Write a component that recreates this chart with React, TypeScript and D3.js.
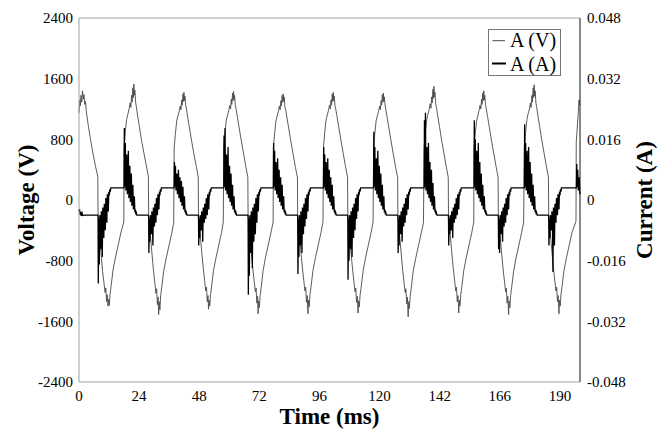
import * as d3 from "d3";

const W = 664;
const H = 430;
const MARGIN = { top: 18, right: 84, bottom: 48, left: 79 };

// time axis ticks (ms) and the labels printed on the original
const timeTicks = [0, 24, 48, 72, 96, 120, 144, 168, 192];
const timeLabels = ["0", "24", "48", "72", "96", "120", "142", "166", "190"];
const voltageTicks = [-2400, -1600, -800, 0, 800, 1600, 2400];
const currentTicks = [-48, -32, -16, 0, 16, 32, 48]; // mA
const currentLabels = ["-0.048", "-0.032", "-0.016", "0", "0.016", "0.032", "0.048"];

// voltage trace: [time ms, volts]
const voltage: [number, number][] = [
  [0, 1150], [0.3, 1320], [0.5, 1240], [0.8, 1380], [1.1, 1290], [1.4, 1440], [1.7, 1330], [2.0, 1390], [2.3, 1260], [2.6, 1300], [2.9, 1180], [3.2, 1100], [3.8, 960], [4.6, 800], [5.6, 610], [6.6, 440], [7.5, 310],
  [7.6, -170], [8.1, -400], [8.8, -700], [9.4, -940], [10.0, -1100], [10.4, -1220], [10.7, -1160], [11.0, -1340], [11.3, -1250], [11.6, -1400], [11.8, -1310], [12.1, -1390], [12.4, -1240], [12.8, -1140], [13.6, -920], [14.6, -750], [15.8, -570], [16.8, -420], [17.9, -290],
  [18.0, 700], [18.5, 900], [19.0, 1060], [19.5, 1130], [20.0, 1200], [20.4, 1280], [20.7, 1220], [21.0, 1380], [21.2, 1290], [21.5, 1480], [21.7, 1350], [21.9, 1530], [22.1, 1380], [22.3, 1450], [22.6, 1290], [22.9, 1230], [23.4, 1110], [24.1, 970], [24.9, 800], [25.9, 620], [26.9, 450], [27.7, 310],
  [27.8, -190], [28.3, -390], [29.0, -660], [29.7, -920], [30.3, -1100], [30.7, -1230], [31.0, -1170], [31.3, -1380], [31.6, -1280], [31.8, -1510], [32.0, -1340], [32.3, -1450], [32.6, -1260], [33.0, -1160], [33.8, -940], [34.8, -770], [36.0, -590], [37.0, -440], [37.8, -300],
  [38.0, 690], [38.5, 880], [39.0, 1040], [39.5, 1110], [40.0, 1170], [40.4, 1240], [40.7, 1190], [41.0, 1320], [41.2, 1250], [41.5, 1400], [41.7, 1300], [41.9, 1420], [42.1, 1310], [42.3, 1370], [42.6, 1240], [42.9, 1200], [43.4, 1090], [44.1, 950], [44.9, 790], [45.9, 600], [46.9, 430], [47.6, 300],
  [47.7, -180], [48.2, -380], [48.9, -650], [49.6, -900], [50.2, -1080], [50.6, -1200], [50.9, -1150], [51.2, -1340], [51.5, -1260], [51.7, -1440], [51.9, -1320], [52.2, -1400], [52.5, -1250], [52.9, -1150], [53.7, -930], [54.7, -760], [55.9, -580], [56.9, -430], [57.6, -290],
  [57.8, 700], [58.3, 890], [58.8, 1050], [59.3, 1120], [59.8, 1180], [60.2, 1250], [60.5, 1200], [60.8, 1330], [61.0, 1260], [61.3, 1410], [61.5, 1310], [61.7, 1430], [61.9, 1320], [62.1, 1380], [62.4, 1250], [62.7, 1200], [63.2, 1100], [63.9, 960], [64.7, 800], [65.7, 610], [66.6, 440], [67.4, 300],
  [67.5, -190], [68.0, -390], [68.7, -660], [69.4, -910], [70.0, -1090], [70.4, -1210], [70.7, -1160], [71.0, -1360], [71.3, -1270], [71.5, -1500], [71.7, -1330], [72.0, -1420], [72.3, -1260], [72.7, -1160], [73.5, -930], [74.5, -750], [75.7, -570], [76.7, -420], [77.5, -290],
  [77.6, 690], [78.1, 880], [78.6, 1040], [79.1, 1110], [79.6, 1170], [80.0, 1240], [80.3, 1190], [80.6, 1310], [80.8, 1240], [81.1, 1380], [81.3, 1290], [81.5, 1400], [81.7, 1300], [81.9, 1360], [82.2, 1230], [82.5, 1190], [83.0, 1090], [83.7, 950], [84.5, 790], [85.5, 600], [86.4, 430], [87.2, 300],
  [87.3, -180], [87.8, -380], [88.5, -650], [89.2, -900], [89.8, -1080], [90.2, -1200], [90.5, -1150], [90.8, -1350], [91.1, -1260], [91.4, -1500], [91.6, -1320], [91.9, -1410], [92.2, -1250], [92.6, -1150], [93.4, -930], [94.4, -760], [95.6, -580], [96.6, -430], [97.4, -290],
  [97.6, 700], [98.1, 890], [98.6, 1050], [99.1, 1120], [99.6, 1180], [100.0, 1250], [100.3, 1200], [100.6, 1320], [100.8, 1250], [101.1, 1400], [101.3, 1300], [101.5, 1420], [101.7, 1310], [101.9, 1370], [102.2, 1240], [102.5, 1200], [103.0, 1100], [103.7, 960], [104.5, 800], [105.5, 610], [106.4, 440], [107.2, 300],
  [107.3, -180], [107.8, -390], [108.5, -660], [109.2, -910], [109.8, -1090], [110.2, -1210], [110.5, -1160], [110.8, -1350], [111.1, -1270], [111.4, -1490], [111.6, -1330], [111.9, -1410], [112.2, -1260], [112.6, -1160], [113.4, -940], [114.4, -760], [115.6, -580], [116.6, -430], [117.4, -290],
  [117.6, 690], [118.1, 880], [118.6, 1040], [119.1, 1110], [119.6, 1170], [120.0, 1240], [120.3, 1190], [120.6, 1310], [120.8, 1250], [121.1, 1390], [121.3, 1290], [121.5, 1410], [121.7, 1300], [121.9, 1360], [122.2, 1240], [122.5, 1190], [123.0, 1090], [123.7, 950], [124.5, 790], [125.5, 600], [126.4, 430], [127.2, 300],
  [127.3, -190], [127.8, -390], [128.5, -660], [129.2, -920], [129.8, -1100], [130.2, -1220], [130.5, -1170], [130.8, -1370], [131.1, -1280], [131.4, -1540], [131.6, -1340], [131.9, -1430], [132.2, -1270], [132.6, -1170], [133.4, -940], [134.4, -770], [135.6, -590], [136.6, -440], [137.5, -300],
  [137.8, 700], [138.3, 900], [138.8, 1060], [139.3, 1130], [139.8, 1190], [140.2, 1270], [140.5, 1210], [140.8, 1360], [141.0, 1280], [141.3, 1460], [141.5, 1340], [141.7, 1500], [141.9, 1360], [142.1, 1420], [142.4, 1270], [142.7, 1220], [143.2, 1110], [143.9, 970], [144.7, 800], [145.7, 610], [146.6, 440], [147.4, 300],
  [147.5, -180], [148.0, -380], [148.7, -650], [149.4, -900], [150.0, -1080], [150.4, -1200], [150.7, -1150], [151.0, -1340], [151.3, -1260], [151.6, -1490], [151.8, -1320], [152.1, -1400], [152.4, -1250], [152.8, -1150], [153.6, -930], [154.6, -760], [155.8, -580], [156.8, -430], [157.6, -290],
  [157.7, 690], [158.2, 880], [158.7, 1040], [159.2, 1110], [159.7, 1180], [160.1, 1250], [160.4, 1200], [160.7, 1330], [160.9, 1260], [161.2, 1410], [161.4, 1310], [161.6, 1440], [161.8, 1320], [162.0, 1380], [162.3, 1250], [162.6, 1200], [163.1, 1100], [163.8, 960], [164.6, 800], [165.6, 610], [166.5, 440], [167.3, 300],
  [167.4, -190], [167.9, -390], [168.6, -660], [169.3, -910], [169.9, -1090], [170.3, -1210], [170.6, -1160], [170.9, -1360], [171.2, -1270], [171.5, -1510], [171.7, -1330], [172.0, -1420], [172.3, -1260], [172.7, -1160], [173.5, -940], [174.5, -760], [175.7, -580], [176.7, -430], [177.5, -290],
  [177.8, 700], [178.3, 900], [178.8, 1060], [179.3, 1140], [179.8, 1200], [180.2, 1280], [180.5, 1220], [180.8, 1380], [181.0, 1290], [181.3, 1480], [181.5, 1350], [181.7, 1520], [181.9, 1370], [182.1, 1440], [182.4, 1280], [182.7, 1230], [183.2, 1110], [183.9, 970], [184.7, 800], [185.7, 610], [186.6, 440], [187.4, 300],
  [187.5, -180], [188.0, -380], [188.7, -650], [189.4, -900], [190.0, -1080], [190.4, -1200], [190.7, -1150], [191.0, -1340], [191.3, -1260], [191.6, -1500], [191.8, -1320], [192.1, -1400], [192.4, -1250], [192.8, -1150], [193.6, -930], [194.6, -760], [195.8, -580], [196.8, -430], [198.4, -280],
  [198.5, 760], [198.9, 950], [199.3, 1150], [199.6, 1320], [200, 1250],
];

// current trace: [time ms, mA]
const currentMilliAmp: [number, number][] = [
  [0, -3], [0.2, -2.4], [0.4, -3.9], [0.6, -3.1], [0.9, -4.2], [1.2, -3.4], [1.5, -4.1], [2.5, -4], [7.5, -4],
  [7.6, -4.5], [7.7, -22], [7.9, -5], [8.1, -17], [8.3, -4], [8.5, -6], [8.7, -13], [8.9, -3], [9.1, -5], [9.3, -15], [9.5, -2], [9.7, -3.5], [9.9, -10], [10.1, -1], [10.3, -2.5], [10.5, -8], [10.7, 0.5], [10.9, -1], [11.1, -6], [11.3, 1.5], [11.5, 0.3], [11.7, -3], [11.9, 2.2], [12.1, 1.2], [12.3, 2.8], [12.5, 2.2], [12.7, 3.2], [17.9, 3.2],
  [18.0, 3.3], [18.1, 19], [18.3, 3.5], [18.5, 15], [18.7, 2.5], [18.9, 4], [19.1, 12], [19.3, 1.5], [19.5, 3], [19.7, 13], [19.9, 0.5], [20.1, 2], [20.3, 9], [20.5, -0.5], [20.7, 1], [20.9, 7], [21.1, -1.5], [21.3, 0], [21.5, 4], [21.7, -2.5], [21.9, -1.5], [22.1, 1], [22.3, -3.2], [22.5, -2.5], [22.7, -3.8], [22.9, -3.4], [23.1, -4], [27.7, -4],
  [27.8, -4.5], [27.9, -14], [28.1, -5], [28.3, -11], [28.5, -4], [28.7, -6], [28.9, -9], [29.1, -3], [29.3, -5], [29.5, -12], [29.7, -2], [29.9, -3.5], [30.1, -7], [30.3, -1], [30.5, -2.5], [30.7, -6], [30.9, 0.5], [31.1, -1], [31.3, -4], [31.5, 1.5], [31.7, 0.3], [31.9, -2.5], [32.1, 2.2], [32.3, 1.2], [32.5, 2.8], [32.7, 2.2], [32.9, 3.2], [37.9, 3.2],
  [38.0, 3.3], [38.1, 10], [38.3, 3.5], [38.5, 9], [38.7, 2.5], [38.9, 4], [39.1, 7], [39.3, 1.5], [39.5, 3], [39.7, 8], [39.9, 0.5], [40.1, 2], [40.3, 6], [40.5, -0.5], [40.7, 1], [40.9, 5], [41.1, -1.5], [41.3, 0], [41.5, 3.5], [41.7, -2.5], [41.9, -1.5], [42.1, 1], [42.3, -3.2], [42.5, -2.5], [42.7, -3.8], [42.9, -3.4], [43.1, -4], [47.6, -4],
  [47.7, -4.5], [47.8, -12], [48.0, -5], [48.2, -10], [48.4, -4], [48.6, -6], [48.8, -8], [49.0, -3], [49.2, -5], [49.4, -11], [49.6, -2], [49.8, -3.5], [50.0, -6], [50.2, -1], [50.4, -2.5], [50.6, -5], [50.8, 0.5], [51.0, -1], [51.2, -4], [51.4, 1.5], [51.6, 0.3], [51.8, -2.5], [52.0, 2.2], [52.2, 1.2], [52.4, 2.8], [52.6, 2.2], [52.8, 3.2], [57.7, 3.2],
  [57.8, 3.3], [57.9, 17], [58.1, 3.5], [58.3, 19], [58.5, 2.5], [58.7, 4], [58.9, 12], [59.1, 1.5], [59.3, 3], [59.5, 14], [59.7, 0.5], [59.9, 2], [60.1, 9], [60.3, -0.5], [60.5, 1], [60.7, 7], [60.9, -1.5], [61.1, 0], [61.3, 4], [61.5, -2.5], [61.7, -1.5], [61.9, 1], [62.1, -3.2], [62.3, -2.5], [62.5, -3.8], [62.7, -3.4], [62.9, -4], [67.4, -4],
  [67.5, -4.5], [67.6, -25], [67.8, -5], [68.0, -20], [68.2, -4], [68.4, -6], [68.6, -14], [68.8, -3], [69.0, -5], [69.2, -18], [69.4, -2], [69.6, -3.5], [69.8, -11], [70.0, -1], [70.2, -2.5], [70.4, -9], [70.6, 0.5], [70.8, -1], [71.0, -6], [71.2, 1.5], [71.4, 0.3], [71.6, -3], [71.8, 2.2], [72.0, 1.2], [72.2, 2.8], [72.4, 2.2], [72.6, 3.2], [77.5, 3.2],
  [77.6, 3.3], [77.7, 15], [77.9, 3.5], [78.1, 13], [78.3, 2.5], [78.5, 4], [78.7, 10], [78.9, 1.5], [79.1, 3], [79.3, 11], [79.5, 0.5], [79.7, 2], [79.9, 8], [80.1, -0.5], [80.3, 1], [80.5, 6], [80.7, -1.5], [80.9, 0], [81.1, 4], [81.3, -2.5], [81.5, -1.5], [81.7, 1], [81.9, -3.2], [82.1, -2.5], [82.3, -3.8], [82.5, -3.4], [82.7, -4], [87.2, -4],
  [87.3, -4.5], [87.4, -19.5], [87.6, -5], [87.8, -15], [88.0, -4], [88.2, -6], [88.4, -12], [88.6, -3], [88.8, -5], [89.0, -14], [89.2, -2], [89.4, -3.5], [89.6, -9], [89.8, -1], [90.0, -2.5], [90.2, -7], [90.4, 0.5], [90.6, -1], [90.8, -5], [91.0, 1.5], [91.2, 0.3], [91.4, -3], [91.6, 2.2], [91.8, 1.2], [92.0, 2.8], [92.2, 2.2], [92.4, 3.2], [97.5, 3.2],
  [97.6, 3.3], [97.7, 14], [97.9, 3.5], [98.1, 12], [98.3, 2.5], [98.5, 4], [98.7, 10], [98.9, 1.5], [99.1, 3], [99.3, 11], [99.5, 0.5], [99.7, 2], [99.9, 8], [100.1, -0.5], [100.3, 1], [100.5, 6], [100.7, -1.5], [100.9, 0], [101.1, 4], [101.3, -2.5], [101.5, -1.5], [101.7, 1], [101.9, -3.2], [102.1, -2.5], [102.3, -3.8], [102.5, -3.4], [102.7, -4], [107.2, -4],
  [107.3, -4.5], [107.4, -21], [107.6, -5], [107.8, -16], [108.0, -4], [108.2, -6], [108.4, -13], [108.6, -3], [108.8, -5], [109.0, -15], [109.2, -2], [109.4, -3.5], [109.6, -10], [109.8, -1], [110.0, -2.5], [110.2, -8], [110.4, 0.5], [110.6, -1], [110.8, -5], [111.0, 1.5], [111.2, 0.3], [111.4, -3], [111.6, 2.2], [111.8, 1.2], [112.0, 2.8], [112.2, 2.2], [112.4, 3.2], [117.5, 3.2],
  [117.6, 3.3], [117.7, 18], [117.9, 3.5], [118.1, 14], [118.3, 2.5], [118.5, 4], [118.7, 11], [118.9, 1.5], [119.1, 3], [119.3, 13], [119.5, 0.5], [119.7, 2], [119.9, 9], [120.1, -0.5], [120.3, 1], [120.5, 7], [120.7, -1.5], [120.9, 0], [121.1, 4], [121.3, -2.5], [121.5, -1.5], [121.7, 1], [121.9, -3.2], [122.1, -2.5], [122.3, -3.8], [122.5, -3.4], [122.7, -4], [127.2, -4],
  [127.3, -4.5], [127.4, -14], [127.6, -5], [127.8, -12], [128.0, -4], [128.2, -6], [128.4, -9], [128.6, -3], [128.8, -5], [129.0, -11], [129.2, -2], [129.4, -3.5], [129.6, -7], [129.8, -1], [130.0, -2.5], [130.2, -6], [130.4, 0.5], [130.6, -1], [130.8, -4], [131.0, 1.5], [131.2, 0.3], [131.4, -2.5], [131.6, 2.2], [131.8, 1.2], [132.0, 2.8], [132.2, 2.2], [132.4, 3.2], [137.7, 3.2],
  [137.8, 3.3], [137.9, 21], [138.1, 3.5], [138.3, 23], [138.5, 2.5], [138.7, 4], [138.9, 14], [139.1, 1.5], [139.3, 3], [139.5, 15], [139.7, 0.5], [139.9, 2], [140.1, 10], [140.3, -0.5], [140.5, 1], [140.7, 8], [140.9, -1.5], [141.1, 0], [141.3, 4.5], [141.5, -2.5], [141.7, -1.5], [141.9, 1], [142.1, -3.2], [142.3, -2.5], [142.5, -3.8], [142.7, -3.4], [142.9, -4], [147.4, -4],
  [147.5, -4.5], [147.6, -12], [147.8, -5], [148.0, -9], [148.2, -4], [148.4, -6], [148.6, -8], [148.8, -3], [149.0, -5], [149.2, -10], [149.4, -2], [149.6, -3.5], [149.8, -6], [150.0, -1], [150.2, -2.5], [150.4, -5], [150.6, 0.5], [150.8, -1], [151.0, -4], [151.2, 1.5], [151.4, 0.3], [151.6, -2.5], [151.8, 2.2], [152.0, 1.2], [152.2, 2.8], [152.4, 2.2], [152.6, 3.2], [157.6, 3.2],
  [157.7, 3.3], [157.8, 21], [158.0, 3.5], [158.2, 16], [158.4, 2.5], [158.6, 4], [158.8, 13], [159.0, 1.5], [159.2, 3], [159.4, 15], [159.6, 0.5], [159.8, 2], [160.0, 10], [160.2, -0.5], [160.4, 1], [160.6, 7], [160.8, -1.5], [161.0, 0], [161.2, 4], [161.4, -2.5], [161.6, -1.5], [161.8, 1], [162.0, -3.2], [162.2, -2.5], [162.4, -3.8], [162.6, -3.4], [162.8, -4], [167.3, -4],
  [167.4, -4.5], [167.5, -13], [167.7, -5], [167.9, -14], [168.1, -4], [168.3, -6], [168.5, -9], [168.7, -3], [168.9, -5], [169.1, -11], [169.3, -2], [169.5, -3.5], [169.7, -7], [169.9, -1], [170.1, -2.5], [170.3, -6], [170.5, 0.5], [170.7, -1], [170.9, -4], [171.1, 1.5], [171.3, 0.3], [171.5, -2.5], [171.7, 2.2], [171.9, 1.2], [172.1, 2.8], [172.3, 2.2], [172.5, 3.2], [177.7, 3.2],
  [177.8, 3.3], [177.9, 20], [178.1, 3.5], [178.3, 15], [178.5, 2.5], [178.7, 4], [178.9, 13], [179.1, 1.5], [179.3, 3], [179.5, 14], [179.7, 0.5], [179.9, 2], [180.1, 10], [180.3, -0.5], [180.5, 1], [180.7, 7], [180.9, -1.5], [181.1, 0], [181.3, 4], [181.5, -2.5], [181.7, -1.5], [181.9, 1], [182.1, -3.2], [182.3, -2.5], [182.5, -3.8], [182.7, -3.4], [182.9, -4], [187.4, -4],
  [187.5, -4.5], [187.6, -12], [187.8, -5], [188.0, -10], [188.2, -4], [188.4, -6], [188.6, -8], [188.8, -3], [189.0, -5], [189.2, -19], [189.4, -2], [189.6, -3.5], [189.8, -12], [190.0, -1], [190.2, -2.5], [190.4, -6], [190.6, 0.5], [190.8, -1], [191.0, -4], [191.2, 1.5], [191.4, 0.3], [191.6, -2.5], [191.8, 2.2], [192.0, 1.2], [192.2, 2.8], [192.4, 2.2], [192.6, 3.2], [198.5, 3.2],
  [198.6, 3.3], [198.7, 9.5], [198.9, 3.5], [199.1, 8], [199.3, 2.5], [199.5, 4], [199.7, 6], [199.9, 1.5], [200, 2],
];

const FONT = "'Liberation Serif', 'Times New Roman', serif";

export default function App() {
  const boundsW = W - MARGIN.left - MARGIN.right;
  const boundsH = H - MARGIN.top - MARGIN.bottom;
  const x0 = MARGIN.left;
  const x1 = MARGIN.left + boundsW;
  const y0 = MARGIN.top;
  const y1 = MARGIN.top + boundsH;

  const xScale = d3.scaleLinear().domain([0, 200]).range([x0, x1]);
  const yV = d3.scaleLinear().domain([-2400, 2400]).range([y1, y0]);
  const yA = d3.scaleLinear().domain([-48, 48]).range([y1, y0]);

  const vLine = d3
    .line<[number, number]>()
    .x((d) => xScale(d[0]))
    .y((d) => yV(d[1]));
  const aLine = d3
    .line<[number, number]>()
    .x((d) => xScale(d[0]))
    .y((d) => yA(d[1]));

  return (
    <svg
      width={W}
      height={H}
      style={{ position: "absolute", left: 0, top: 0, background: "#fff" }}
      fontFamily={FONT}
    >
      <rect x={0} y={0} width={W} height={H} fill="#fff" />

      {/* traces */}
      <path d={vLine(voltage) || ""} fill="none" stroke="#4a4a4a" strokeWidth={0.9} />
      <path d={aLine(currentMilliAmp) || ""} fill="none" stroke="#000" strokeWidth={1.3} />

      {/* frame */}
      <line x1={x0} x2={x1} y1={y0} y2={y0} stroke="#a0a0a0" strokeWidth={1} />
      <line x1={x0} x2={x1} y1={y1} y2={y1} stroke="#a0a0a0" strokeWidth={1} />
      <line x1={x0} x2={x0} y1={y0} y2={y1} stroke="#a0a0a0" strokeWidth={1} />
      <line x1={x1} x2={x1} y1={y0} y2={y1} stroke="#111" strokeWidth={1} />

      {/* left ticks */}
      {voltageTicks.map((v) => (
        <text key={"v" + v} x={x0 - 6} y={yV(v)} dy="0.35em" textAnchor="end" fontSize={15}>
          {v}
        </text>
      ))}
      {/* right ticks */}
      {currentTicks.map((v, i) => (
        <text key={"a" + v} x={x1 + 7} y={yA(v)} dy="0.35em" textAnchor="start" fontSize={15}>
          {currentLabels[i]}
        </text>
      ))}
      {/* bottom ticks */}
      {timeTicks.map((t, i) => (
        <text key={"t" + t} x={xScale(t)} y={y1 + 19} textAnchor="middle" fontSize={15}>
          {timeLabels[i]}
        </text>
      ))}

      {/* axis titles */}
      <text x={(x0 + x1) / 2} y={424} textAnchor="middle" fontSize={23} fontWeight="bold">
        Time (ms)
      </text>
      <text transform={`translate(34,${(y0 + y1) / 2}) rotate(-90)`} textAnchor="middle" fontSize={23} fontWeight="bold">
        Voltage (V)
      </text>
      <text transform={`translate(652,${(y0 + y1) / 2}) rotate(-90)`} textAnchor="middle" fontSize={23} fontWeight="bold">
        Current (A)
      </text>

      {/* legend */}
      <g>
        <rect x={488.5} y={29.5} width={72} height={46} fill="#fff" stroke="#777" strokeWidth={1} />
        <line x1={492.5} x2={505} y1={40.7} y2={40.7} stroke="#4a4a4a" strokeWidth={1} />
        <text x={510} y={47.3} fontSize={20}>A (V)</text>
        <line x1={492} x2={506} y1={63.5} y2={63.5} stroke="#000" strokeWidth={2} />
        <text x={510} y={70.7} fontSize={20}>A (A)</text>
      </g>
    </svg>
  );
}
